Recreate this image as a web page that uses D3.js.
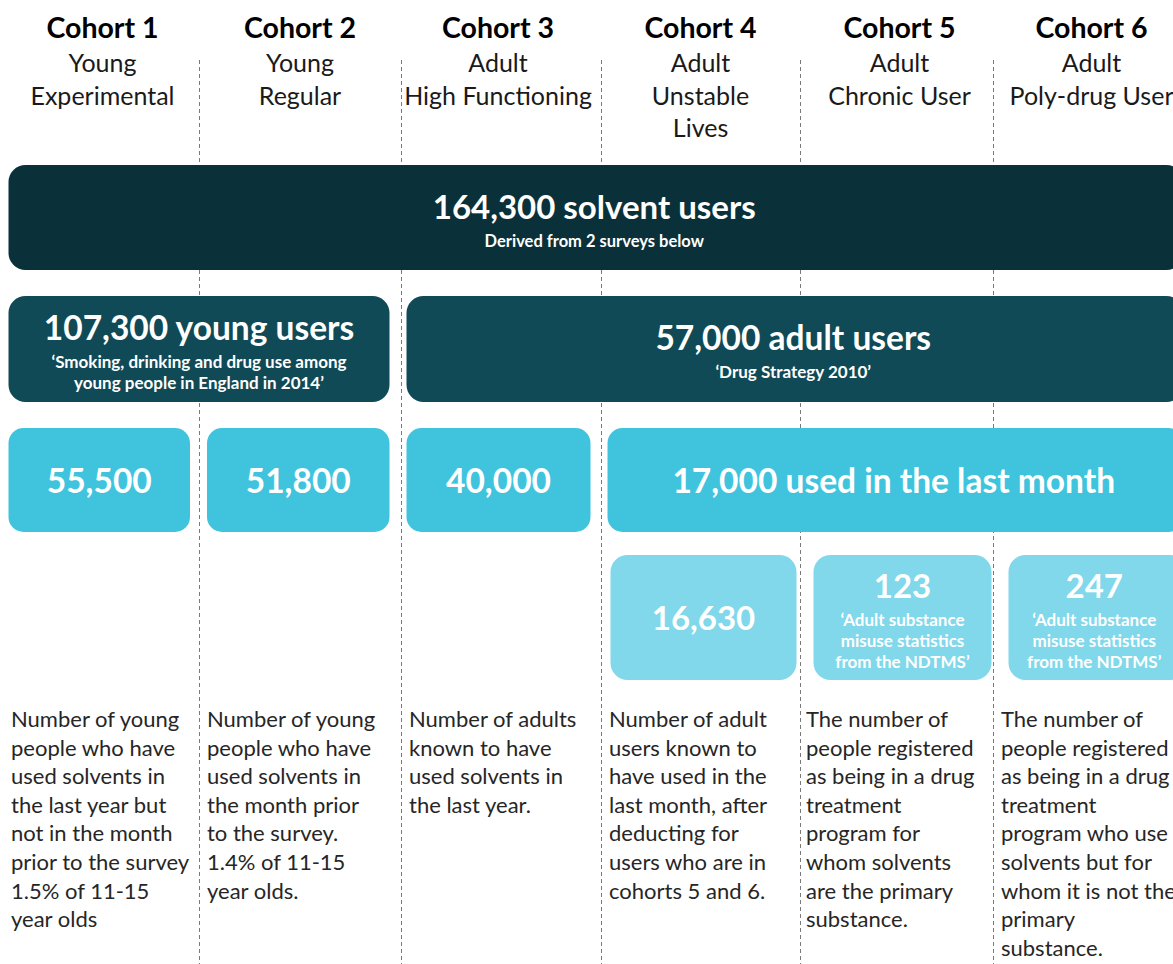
<!DOCTYPE html>
<html>
<head>
<meta charset="utf-8">
<script src="https://cdn.jsdelivr.net/npm/d3@7"></script>
<style>
    body { margin: 0; background: #fff; }
    #chart-area { width: 1173px; height: 964px; overflow: hidden; }
    text { font-family: Lato, "Open Sans", sans-serif; }
</style>
</head>
<body>
<div id="chart-area"></div>
<script>

// cohort headings
const cohortTitles = ["Cohort 1", "Cohort 2", "Cohort 3", "Cohort 4", "Cohort 5", "Cohort 6"];
const cohortTypes = [
    ["Young", "Experimental"],
    ["Young", "Regular"],
    ["Adult", "High Functioning"],
    ["Adult", "Unstable", "Lives"],
    ["Adult", "Chronic User"],
    ["Adult", "Poly-drug User"]
];

// boxes: label, source lines, which columns they span and which row
const boxLabels = [
    "164,300 solvent users",
    "107,300 young users", "57,000 adult users",
    "55,500", "51,800", "40,000", "17,000 used in the last month",
    "16,630", "123", "247"
];
const boxSources = [
    ["Derived from 2 surveys below"],
    ["\u2018Smoking, drinking and drug use among", "young people in England in 2014\u2019"], ["\u2018Drug Strategy 2010\u2019"],
    [], [], [], [],
    [], ["\u2018Adult substance", "misuse statistics", "from the NDTMS\u2019"], ["\u2018Adult substance", "misuse statistics", "from the NDTMS\u2019"]
];
const boxFrom = [0, 0, 2, 0, 1, 2, 3, 3, 4, 5];
const boxTo   = [6, 2, 6, 1, 2, 3, 6, 4, 5, 6];
const boxLevel = [0, 1, 1, 2, 2, 2, 2, 3, 3, 3];

// descriptions under each cohort
const descriptions = [
    ["Number of young", "people who have", "used solvents in", "the last year but", "not in the month", "prior to the survey", "1.5% of 11-15", "year olds"],
    ["Number of young", "people who have", "used solvents in", "the month prior", "to the survey.", "1.4% of 11-15", "year olds."],
    ["Number of adults", "known to have", "used solvents in", "the last year."],
    ["Number of adult", "users known to", "have used in the", "last month, after", "deducting for", "users who are in", "cohorts 5 and 6."],
    ["The number of", "people registered", "as being in a drug", "treatment", "program for", "whom solvents", "are the primary", "substance."],
    ["The number of", "people registered", "as being in a drug", "treatment", "program who use", "solvents but for", "whom it is not the", "primary", "substance."]
];


class CohortChart {

    constructor(parentElement) {
        this.parentElement = parentElement;
        this.initVis();
    }

    initVis() {
        let vis = this;

        vis.width = 1173;
        vis.height = 964;

        vis.svg = d3.select("#" + vis.parentElement).append("svg")
            .attr("width", vis.width)
            .attr("height", vis.height);

        // column edges for the dashed lines (uneven, as in the original slide)
        vis.x = d3.scaleLinear()
            .domain(d3.range(7))
            .range([0, 199, 401, 601, 800, 993, 1186]);

        // the boxes sit on a slightly different grid
        vis.xb = d3.scaleLinear()
            .domain(d3.range(7))
            .range([0, 198.5, 398, 599, 802, 997, 1192]);

        // rows of boxes: top / bottom
        vis.rowTop = d3.scaleOrdinal().domain([0, 1, 2, 3]).range([165, 296, 428, 555]);
        vis.rowBottom = d3.scaleOrdinal().domain([0, 1, 2, 3]).range([270, 402, 532, 680]);
        vis.fill = d3.scaleOrdinal().domain([0, 1, 2, 3]).range(["#0a313a", "#104a56", "#40c4de", "#80d8ea"]);
        vis.titleSize = d3.scaleOrdinal().domain([0, 1, 2, 3]).range([33, 33.5, 33.5, 33]);
        vis.subSize = d3.scaleOrdinal().domain([0, 1, 2, 3]).range([16.5, 17, 17, 17]);

        vis.wrangleData();
    }

    wrangleData() {
        let vis = this;

        vis.boxes = boxLabels.map((d, i) => ({
            label: d,
            sources: boxSources[i],
            from: boxFrom[i],
            to: boxTo[i],
            level: boxLevel[i]
        }));

        vis.updateVis();
    }

    updateVis() {
        let vis = this;

        // dashed separators
        vis.svg.append("g")
            .selectAll("line")
            .data(d3.range(1, 6))
            .enter().append("line")
            .attr("x1", d => vis.x(d) + 0.5)
            .attr("x2", d => vis.x(d) + 0.5)
            .attr("y1", 60)
            .attr("y2", vis.height)
            .attr("stroke", "#7a7a7a")
            .attr("stroke-width", 1)
            .attr("stroke-dasharray", "4,3");

        // header
        let head = vis.svg.append("g").attr("class", "header")
            .selectAll("g")
            .data(cohortTitles)
            .enter().append("g")
            .attr("transform", (d, i) => `translate(${(vis.x(i) + vis.x(i + 1)) / 2 + (i === 0 ? 3 : i === 4 ? 3 : i === 2 ? -3 : i === 5 ? 2 : 0)},0)`);

        head.append("text")
            .attr("y", 38)
            .attr("text-anchor", "middle")
            .attr("font-size", 28.5)
            .attr("font-weight", "bold")
            .attr("fill", "#000")
            .text(d => d);

        head.selectAll(".type")
            .data((d, i) => cohortTypes[i])
            .enter().append("text")
            .attr("class", "type")
            .attr("y", (d, j) => 72 + j * 32.5)
            .attr("text-anchor", "middle")
            .attr("font-size", 25)
            .attr("fill", "#1a1a1a")
            .text(d => d);

        // boxes
        let box = vis.svg.append("g").attr("class", "boxes")
            .selectAll("g")
            .data(vis.boxes)
            .enter().append("g");

        let shift = d => d.level === 3 ? 3 : 0;
        let x0 = d => vis.xb(d.from) + 8.5 + shift(d);
        let x1 = d => vis.xb(d.to) - 8.5 + shift(d);

        box.append("rect")
            .attr("x", x0)
            .attr("y", d => vis.rowTop(d.level))
            .attr("width", d => x1(d) - x0(d))
            .attr("height", d => vis.rowBottom(d.level) - vis.rowTop(d.level))
            .attr("rx", d => d.level === 2 ? 15 : 17)
            .attr("fill", d => vis.fill(d.level));

        // centre of each box, clipped to the visible width
        let cx = d => (x0(d) + Math.min(x1(d), 1180)) / 2;
        let titleY = d => {
            let mid = (vis.rowTop(d.level) + vis.rowBottom(d.level)) / 2;
            let n = d.sources.length;
            let block = n ? 27 + (n - 1) * 21 : 0;
            return mid - block / 2 + (n ? 14.5 : 12.5);
        };

        box.append("text")
            .attr("x", cx)
            .attr("y", titleY)
            .attr("text-anchor", "middle")
            .attr("font-size", d => vis.titleSize(d.level))
            .attr("font-weight", "bold")
            .attr("fill", "#fff")
            .text(d => d.label);

        box.each(function(d) {
            d3.select(this).selectAll(".src")
                .data(d.sources)
                .enter().append("text")
                .attr("class", "src")
                .attr("x", cx(d))
                .attr("y", (s, j) => titleY(d) + 28 + j * 21)
                .attr("text-anchor", "middle")
                .attr("font-size", vis.subSize(d.level))
                .attr("font-weight", "bold")
                .attr("fill", "#fff")
                .text(s => s);
        });

        // descriptions
        let desc = vis.svg.append("g").attr("class", "descriptions")
            .selectAll("g")
            .data(descriptions)
            .enter().append("g")
            .attr("transform", (d, i) => `translate(${vis.x(i) + (i === 0 ? 11 : i === 4 ? 6 : 8)},0)`);

        desc.selectAll("text")
            .data(d => d)
            .enter().append("text")
            .attr("y", (d, j) => 727 + j * 28.6)
            .attr("font-size", 22)
            .attr("fill", "#262626")
            .text(d => d);
    }
}

new CohortChart("chart-area");

</script>
</body>
</html>
